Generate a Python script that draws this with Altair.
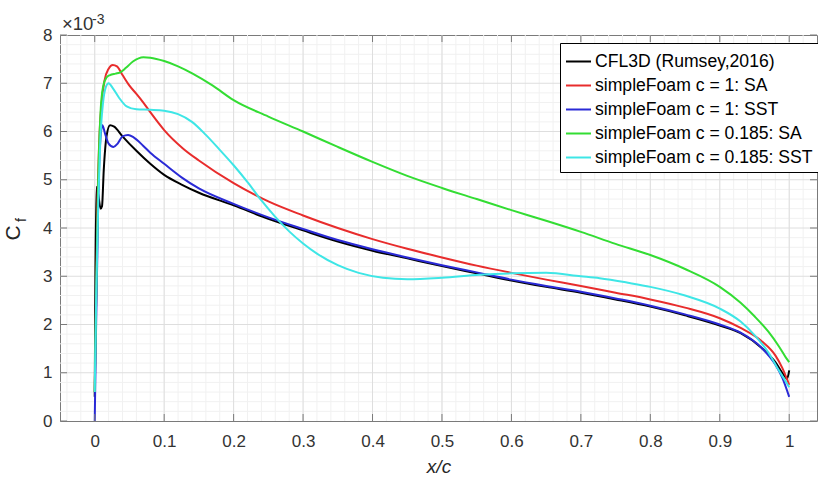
import altair as alt
import pandas as pd

# ---------------- data ----------------
series_names = [
    "CFL3D (Rumsey,2016)",
    "simpleFoam c = 1: SA",
    "simpleFoam c = 1: SST",
    "simpleFoam c = 0.185: SA",
    "simpleFoam c = 0.185: SST",
]
series_colors = ["#000000", "#e82c2c", "#2a2ad6", "#33dd33", "#3ee6e6"]

cfl3d_x = [0, 0.001, 0.0025, 0.005, 0.0085, 0.0105, 0.013, 0.017, 0.022, 0.028, 0.04, 0.06, 0.08, 0.1,
           0.125, 0.15, 0.2, 0.25, 0.3, 0.35, 0.4, 0.45, 0.5, 0.55, 0.6, 0.65, 0.7, 0.75, 0.8, 0.85,
           0.9, 0.93, 0.96, 0.98, 0.99, 0.997, 1.0]
cfl3d_y = [0.5, 3.0, 4.85, 4.7, 4.4, 4.45, 5.2, 5.9, 6.13, 6.1, 5.9, 5.6, 5.33, 5.1,
           4.9, 4.73, 4.47, 4.19, 3.95, 3.72, 3.53, 3.37, 3.21, 3.06, 2.91, 2.78, 2.66, 2.52, 2.37, 2.19,
           1.98, 1.82, 1.52, 1.22, 1.0, 0.88, 1.05]

sa1_x = [0, 0.002, 0.004, 0.007, 0.01, 0.014, 0.02, 0.026, 0.032, 0.04, 0.05, 0.06, 0.07, 0.08, 0.1,
         0.127, 0.15, 0.2, 0.233, 0.25, 0.3, 0.35, 0.4, 0.45, 0.5, 0.55, 0.6, 0.65, 0.7, 0.75, 0.8,
         0.85, 0.9, 0.93, 0.96, 0.98, 0.99, 1.0]
sa1_y = [0.6, 2.5, 4.5, 5.97, 6.6, 7.05, 7.3, 7.38, 7.35, 7.17, 6.95, 6.78, 6.6, 6.4, 6.03,
         5.65, 5.4, 4.93, 4.67, 4.55, 4.26, 4.0, 3.77, 3.57, 3.39, 3.22, 3.07, 2.93, 2.8, 2.66, 2.52,
         2.35, 2.13, 1.93, 1.66, 1.36, 1.1, 0.75]

sst1_x = [0, 0.002, 0.005, 0.008, 0.011, 0.015, 0.02, 0.027, 0.033, 0.04, 0.048, 0.056, 0.07, 0.08, 0.1,
          0.125, 0.15, 0.2, 0.25, 0.3, 0.35, 0.4, 0.45, 0.5, 0.55, 0.6, 0.65, 0.7, 0.75, 0.8, 0.85,
          0.9, 0.93, 0.96, 0.98, 0.99, 1.0]
sst1_y = [0.0, 2.0, 4.5, 5.8, 6.13, 5.95, 5.75, 5.68, 5.75, 5.9, 5.93, 5.88, 5.7, 5.56, 5.33,
          5.05, 4.82, 4.5, 4.22, 3.98, 3.75, 3.56, 3.39, 3.23, 3.08, 2.93, 2.8, 2.68, 2.54, 2.39, 2.21,
          2.0, 1.83, 1.52, 1.17, 0.9, 0.5]

sa185_x = [0, 0.002, 0.005, 0.008, 0.012, 0.017, 0.022, 0.03, 0.036, 0.045, 0.055, 0.07, 0.08, 0.1,
           0.12, 0.141, 0.17, 0.2, 0.25, 0.3, 0.35, 0.4, 0.45, 0.5, 0.55, 0.6, 0.65, 0.7, 0.75, 0.8,
           0.85, 0.9, 0.93, 0.95, 0.97, 0.985, 0.995, 1.0]
sa185_y = [0.6, 2.5, 5.0, 6.3, 6.93, 7.12, 7.17, 7.2, 7.22, 7.32, 7.45, 7.54, 7.53, 7.46,
           7.35, 7.2, 6.95, 6.65, 6.31, 6.0, 5.68, 5.37, 5.08, 4.83, 4.6, 4.37, 4.15, 3.92, 3.67, 3.44,
           3.15, 2.78, 2.45, 2.17, 1.85, 1.55, 1.32, 1.22]

sst185_x = [0, 0.002, 0.005, 0.008, 0.012, 0.016, 0.02, 0.026, 0.035, 0.046, 0.06, 0.08, 0.1, 0.12,
            0.14, 0.16, 0.18, 0.2, 0.22, 0.24, 0.26, 0.28, 0.3, 0.32, 0.35, 0.38, 0.415,
            0.45, 0.5, 0.554, 0.6, 0.65, 0.7, 0.727, 0.77, 0.8, 0.85, 0.9, 0.93, 0.95,
            0.97, 0.985, 0.995, 1.0]
sst185_y = [0.6, 2.5, 4.5, 5.8, 6.6, 6.92, 7.0, 6.9, 6.7, 6.52, 6.46, 6.45, 6.43, 6.36,
            6.2, 5.93, 5.62, 5.3, 4.95, 4.57, 4.23, 3.93, 3.68, 3.47, 3.23, 3.07, 2.97,
            2.94, 2.97, 3.03, 3.06, 3.07, 3.0, 2.96, 2.86, 2.78, 2.6, 2.33, 2.06, 1.78,
            1.42, 1.05, 0.82, 0.7]

x_ticks = [0, 0.1, 0.2, 0.3, 0.4, 0.5, 0.6, 0.7, 0.8, 0.9, 1]
y_ticks = [0, 1, 2, 3, 4, 5, 6, 7, 8]
x_minor = [round(-0.04 + 0.02 * i, 2) for i in range(54)]
y_minor = [round(0.2 * i, 1) for i in range(1, 40)]
x_label = "x/c"
y_label_main = "C"
y_label_sub = "f"
exp_base = "×10"
exp_power = "-3"

X_DOMAIN = [-0.05, 1.04]
Y_DOMAIN = [0, 8]
W, H = 757, 386

# ---------------- tables ----------------
all_series = [cfl3d_x, sa1_x, sst1_x, sa185_x, sst185_x]
all_y = [cfl3d_y, sa1_y, sst1_y, sa185_y, sst185_y]
rows = []
for name, xs, ys in zip(series_names, all_series, all_y):
    for i, (xv, yv) in enumerate(zip(xs, ys)):
        rows.append({"series": name, "x": xv, "y": yv, "i": i})
df = pd.DataFrame(rows)

xs_scale = alt.Scale(domain=X_DOMAIN, nice=False, zero=False)
ys_scale = alt.Scale(domain=Y_DOMAIN, nice=False)

minor_x_df = pd.DataFrame({"v": [v for v in x_minor if X_DOMAIN[0] < v < X_DOMAIN[1]]})
minor_y_df = pd.DataFrame({"v": [v for v in y_minor if v not in y_ticks]})
major_x_df = pd.DataFrame({"v": x_ticks})
major_y_df = pd.DataFrame({"v": [v for v in y_ticks if 0 < v < 8]})
tick_y_df = pd.DataFrame({"v": y_ticks})

minor_x = alt.Chart(minor_x_df).mark_rule(color="#f1f1f1", strokeWidth=1).encode(
    x=alt.X("v:Q", scale=xs_scale))
minor_y = alt.Chart(minor_y_df).mark_rule(color="#f1f1f1", strokeWidth=1).encode(
    y=alt.Y("v:Q", scale=ys_scale))
major_x = alt.Chart(major_x_df).mark_rule(color="#dedede", strokeWidth=1).encode(
    x=alt.X("v:Q", scale=xs_scale))
major_y = alt.Chart(major_y_df).mark_rule(color="#dedede", strokeWidth=1).encode(
    y=alt.Y("v:Q", scale=ys_scale))

lines = alt.Chart(df).mark_line(strokeWidth=2, interpolate="monotone", clip=True).encode(
    x=alt.X("x:Q", scale=xs_scale,
            axis=alt.Axis(values=x_ticks, format="~g", title=x_label, grid=False, ticks=False,
                          domain=False, labelPadding=12, titlePadding=8)),
    y=alt.Y("y:Q", scale=ys_scale,
            axis=alt.Axis(values=y_ticks, format="d", title=None, grid=False, ticks=False,
                          domain=False, labelPadding=8)),
    color=alt.Color("series:N",
                    scale=alt.Scale(domain=series_names, range=series_colors),
                    legend=alt.Legend(title=None, orient="none", legendX=500, legendY=8,
                                      symbolType="stroke", symbolStrokeWidth=2, symbolSize=625,
                                      labelFontSize=17.6, labelLimit=400, rowPadding=1,
                                      padding=5, fillColor="white", strokeColor="#000000",
                                      labelOffset=3)),
    order=alt.Order("i:Q"),
)

tick_col = "#7a7a7a"
ticks_bottom = alt.Chart(major_x_df).mark_rule(color=tick_col).encode(
    x=alt.X("v:Q", scale=xs_scale), y=alt.value(H), y2=alt.value(H - 7))
ticks_top = alt.Chart(major_x_df).mark_rule(color=tick_col).encode(
    x=alt.X("v:Q", scale=xs_scale), y=alt.value(0), y2=alt.value(7))
ticks_left = alt.Chart(tick_y_df).mark_rule(color=tick_col).encode(
    y=alt.Y("v:Q", scale=ys_scale), x=alt.value(0), x2=alt.value(7))
ticks_right = alt.Chart(tick_y_df).mark_rule(color=tick_col).encode(
    y=alt.Y("v:Q", scale=ys_scale), x=alt.value(W), x2=alt.value(W - 7))

c_txt = alt.Chart(pd.DataFrame({"t": [y_label_main]})).mark_text(
    angle=270, align="center", baseline="alphabetic", fontSize=21, color="#262626",
    font="Liberation Sans").encode(text="t:N", x=alt.value(-40), y=alt.value(198))
f_txt = alt.Chart(pd.DataFrame({"t": [y_label_sub]})).mark_text(
    angle=270, align="center", baseline="alphabetic", fontSize=14, color="#262626",
    font="Liberation Sans").encode(text="t:N", x=alt.value(-34), y=alt.value(185))
e1_txt = alt.Chart(pd.DataFrame({"t": [exp_base]})).mark_text(
    align="left", baseline="alphabetic", fontSize=18.5, color="#333333",
    font="Liberation Sans").encode(text="t:N", x=alt.value(2), y=alt.value(-5))
e2_txt = alt.Chart(pd.DataFrame({"t": [exp_power]})).mark_text(
    align="left", baseline="alphabetic", fontSize=14, color="#333333",
    font="Liberation Sans").encode(text="t:N", x=alt.value(32), y=alt.value(-11))

chart = alt.layer(
    minor_x, minor_y, major_x, major_y, lines,
    ticks_bottom, ticks_top, ticks_left, ticks_right,
    c_txt, f_txt, e1_txt, e2_txt,
).properties(
    width=W, height=H,
    autosize=alt.AutoSizeParams(type="none"),
    padding={"left": 60, "top": 35, "right": 1, "bottom": 56},
    background="white",
).configure_view(
    stroke="#7a7a7a", strokeWidth=1,
).configure_axis(
    labelFont="Liberation Sans", titleFont="Liberation Sans",
    labelFontSize=17, labelColor="#333333",
    titleFontSize=19, titleColor="#262626", titleFontWeight="normal",
).configure_axisX(
    titleFontStyle="italic",
).configure_legend(
    labelFont="Liberation Sans", labelColor="#000000",
)

chart.save("out.html", embed_options={"renderer": "svg", "actions": False})
